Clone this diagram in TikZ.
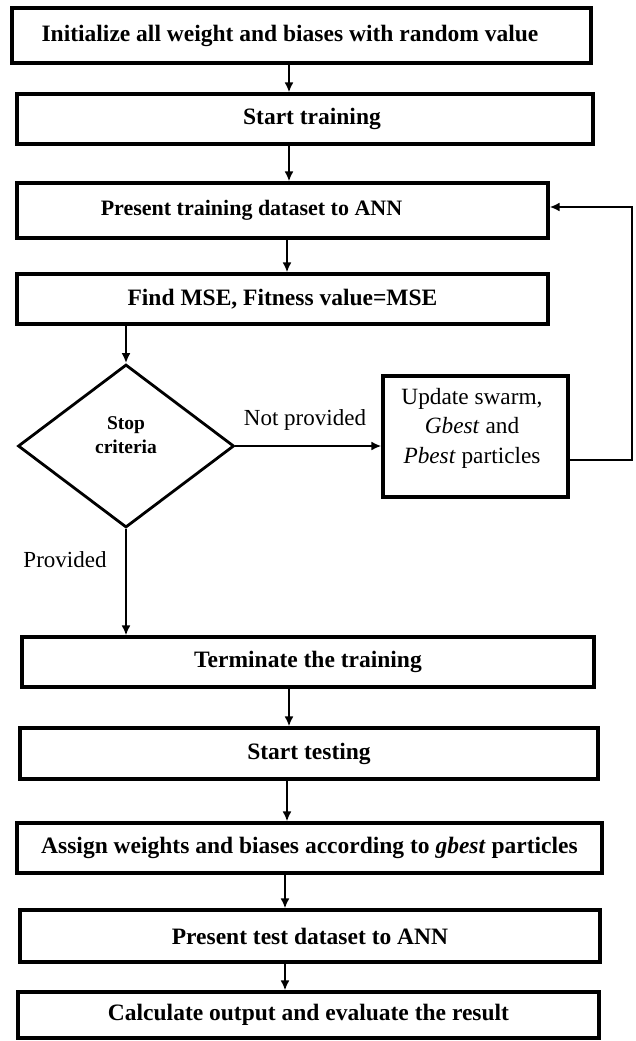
\documentclass[tikz,border=0pt]{standalone}
\usepackage{fontspec}
\setmainfont{Liberation Serif}
\usetikzlibrary{shapes.geometric,arrows.meta}
\begin{document}
\begin{tikzpicture}[x=1pt,y=-1pt,
  box/.style={draw=black,line width=3.2pt,inner sep=0pt,
    font=\bfseries\fontsize{23.5}{28}\selectfont},
  decision/.style={draw=black,diamond,line width=2.8pt,inner sep=0pt,
    minimum width=216pt,minimum height=163pt},
  arr/.style={line width=2.8pt,-{Latex[length=10pt,width=9pt]}},
  looparr/.style={line width=2.5pt,-{Latex[length=10pt,width=9pt]}},
  lbl/.style={inner sep=0pt,font=\fontsize{23}{28}\selectfont},
  smalllbl/.style={inner sep=0pt,align=center,
    font=\bfseries\fontsize{19.5}{24}\selectfont},
  updlbl/.style={inner sep=0pt,align=center,
    font=\fontsize{23.3}{29.5}\selectfont}
]
\useasboundingbox (0,0) rectangle (635,1041);

\node[box,minimum width=579pt,minimum height=55pt] (b1) at (301.5,35.5)
  {\hspace*{-23pt}Initialize all weight and biases with random value};
\node[box,minimum width=576pt,minimum height=50pt] (b2) at (305,119)
  {\hspace*{14pt}Start training};
\node[box,minimum width=531pt,minimum height=55pt] (b3) at (282.5,210.5)
  {\hspace*{-62pt}\raisebox{-7pt}{\fontsize{22}{26}\selectfont Present training dataset to ANN}};
\node[box,minimum width=531pt,minimum height=50pt] (b4) at (282.5,299)
  {Find MSE, Fitness value=MSE};
\node[decision] (d) at (126,446) {};
\node[smalllbl] (dt) at (126,435) {Stop\\criteria};
\node[box,minimum width=185pt,minimum height=121pt] (b5) at (475.5,436.5) {};
\node[updlbl] (b5t) at (472,428) {Update swarm,\\\textit{Gbest} and\\\textit{Pbest} particles};
\node[box,minimum width=572pt,minimum height=50pt] (b6) at (308,662)
  {Terminate the training};
\node[box,minimum width=578pt,minimum height=51pt] (b7) at (309,753.5)
  {Start testing};
\node[box,minimum width=585pt,minimum height=50pt] (b8) at (309.5,848)
  {Assign weights and biases according to \textit{gbest} particles};
\node[box,minimum width=580pt,minimum height=52pt] (b9) at (310,936)
  {Present test dataset to ANN};
\node[box,minimum width=581pt,minimum height=46pt] (b10) at (308.5,1015)
  {Calculate output and evaluate the result};

\node[lbl] (np) at (305,420) {Not provided};
\node[lbl] (pv) at (65,560) {Provided};

\coordinate (c1) at (289,0);
\coordinate (c2) at (287,0);
\coordinate (c3) at (285,0);
\coordinate (lp1) at (632,460);
\coordinate (lp2) at (632,207);

\draw[arr] (b1.south -| c1) -- (b2.north -| c1);
\draw[arr] (b2.south -| c1) -- (b3.north -| c1);
\draw[arr] (b3.south -| c2) -- (b4.north -| c2);
\draw[arr] (b4.south -| d.north) -- (d.north);
\draw[arr] (d.east) -- (d.east -| b5.west);
\draw[looparr] ([yshift=-23.5pt]b5.east) -- (lp1) -- (lp2) -- (b3.east |- lp2);
\draw[arr] (d.south) -- (b6.north -| d.south);
\draw[arr] (b6.south -| c1) -- (b7.north -| c1);
\draw[arr] (b7.south -| c2) -- (b8.north -| c2);
\draw[arr] (b8.south -| c3) -- (b9.north -| c3);
\draw[arr] (b9.south -| c3) -- (b10.north -| c3);
\end{tikzpicture}
\end{document}
